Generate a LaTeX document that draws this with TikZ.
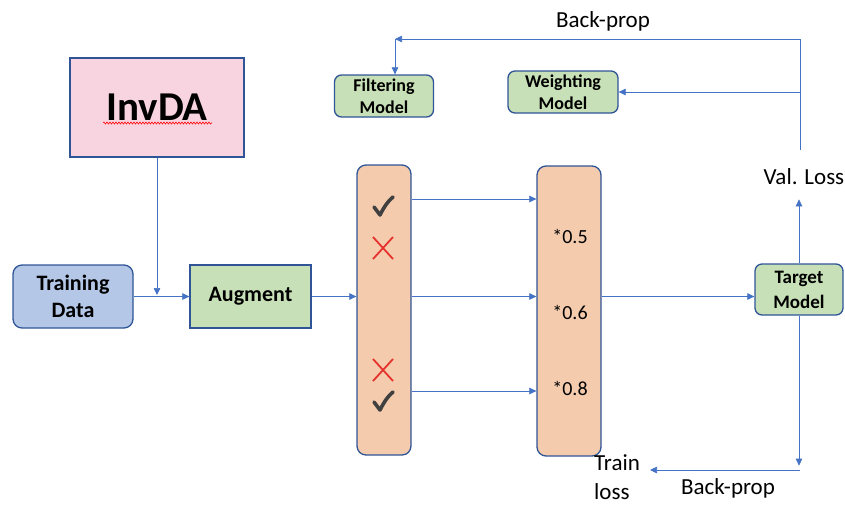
\documentclass[tikz,border=0pt]{standalone}
\usepackage{fontspec}
\setmainfont{Carlito}
\usetikzlibrary{arrows.meta,decorations.pathmorphing}
\definecolor{rim}{HTML}{2F5597}
\definecolor{link}{HTML}{4472C4}
\definecolor{pinkfill}{HTML}{F8D4E0}
\definecolor{bluefill}{HTML}{B4C7E7}
\definecolor{greenfill}{HTML}{C8E0B7}
\definecolor{peachfill}{HTML}{F4CCAD}
\definecolor{tickgray}{HTML}{404040}
\definecolor{crossred}{HTML}{E5322D}
\tikzset{
  box/.style={draw=rim,line width=1.3pt,inner sep=0pt,align=center,font=\bfseries},
  roundbox/.style={box,rounded corners=9pt},
  flow/.style={draw=link,line width=0.7pt,-{Triangle[length=7pt,width=6.5pt]}},
  wire/.style={draw=link,line width=0.7pt},
  plain/.style={inner sep=0pt,font=\fontsize{23}{28}\selectfont},
  okmark/.pic={\draw[tickgray,line width=3.6pt,line cap=round,line join=round]
      (-9,0) -- (-3,8) .. controls (1,0) and (5,-6) .. (10,-10);},
  nomark/.pic={\draw[crossred,line width=1.8pt]
      (-10,-11) -- (10,11) (-10,11) -- (10,-11);}
}
\begin{document}
\begin{tikzpicture}[x=1pt,y=-1pt]
\useasboundingbox (0,0) rectangle (845,504);

% boxes
\node[box,fill=pinkfill,minimum width=174pt,minimum height=99pt,
      font=\bfseries\fontsize{41}{48}\selectfont] (invda) at (157,107.5) {InvDA};
\draw[red,line width=0.6pt,decorate,decoration={snake,amplitude=1pt,segment length=3pt}]
  (103,123) -- (212,123);
\node[roundbox,fill=bluefill,minimum width=120pt,minimum height=63pt,
      font=\bfseries\fontsize{22}{27}\selectfont] (train) at (73,296.5) {Training\\Data};
\node[box,fill=greenfill,minimum width=121pt,minimum height=63pt,
      font=\bfseries\fontsize{22}{27}\selectfont] (aug) at (250.5,296.5) {Augment};
\node[roundbox,fill=peachfill,minimum width=54pt,minimum height=290pt] (filt) at (384,310) {};
\node[roundbox,fill=peachfill,minimum width=64pt,minimum height=290pt] (wgt) at (569,311) {};
\node[roundbox,fill=greenfill,minimum width=88pt,minimum height=51pt,rounded corners=7pt,
      font=\bfseries\fontsize{19}{25}\selectfont] (tgt) at (799,289.5) {Target\\Model};
\node[roundbox,fill=greenfill,minimum width=99pt,minimum height=42pt,rounded corners=7pt,
      font=\bfseries\fontsize{18}{22}\selectfont] (fmod) at (384,96) {Filtering\\Model};
\node[roundbox,fill=greenfill,minimum width=110pt,minimum height=42pt,rounded corners=7pt,
      font=\bfseries\fontsize{18}{22}\selectfont] (wmod) at (563,92) {Weighting\\Model};

% marks in the filtering column
\pic at (383,207) {okmark};
\pic at (383,248) {nomark};
\pic at (383,370) {nomark};
\pic at (383,402) {okmark};

% weights
\node[plain,font=\fontsize{20}{24}\selectfont] (w1) at (570,236) {*0.5};
\node[plain,font=\fontsize{20}{24}\selectfont] (w2) at (570,312) {*0.6};
\node[plain,font=\fontsize{20}{24}\selectfont] (w3) at (570,388) {*0.8};

% free labels
\node[plain] (bptop) at (603,21) {Back-prop};
\node[plain] (val) at (804,177) {Val. Loss};
\node[plain,align=left,anchor=west,font=\fontsize{23}{29}\selectfont] (tl) at (594,477) {Train\\loss};
\node[plain] (bpbot) at (728,488) {Back-prop};

% forward path
\coordinate (join) at (157,295);
\draw[flow] (invda.south) -- (join);
\draw[flow] (train.east) -- (aug.west);
\draw[flow] (aug.east) -- (aug.east -| filt.west);
\coordinate (f1) at ([yshift=111pt]filt.east);
\coordinate (f3) at ([yshift=-81pt]filt.east);
\draw[flow] (f1) -- (f1 -| wgt.west);
\draw[flow] (aug.east -| filt.east) -- (aug.east -| wgt.west);
\draw[flow] (f3) -- (f3 -| wgt.west);
\draw[flow] (aug.east -| wgt.east) -- (aug.east -| tgt.west);

% validation loss and back-propagation to the meta models
\draw[flow] (tgt.north) -- ++(0,-64);
\coordinate (vtop) at (800,150);
\coordinate (corner) at (800,39);
\coordinate (fcorner) at (395,39);
\draw[wire] (vtop) -- (corner);
\draw[flow] (corner) -- (fcorner);
\draw[flow] (fcorner) -- (fcorner |- fmod.north);
\draw[flow] (corner |- wmod.east) -- (wmod.east);

% training loss
\draw[flow] (tgt.south) -- ++(0,150);
\coordinate (brc) at (800,470);
\coordinate (tlend) at (650,470);
\draw[flow] (brc) -- (tlend);
\end{tikzpicture}
\end{document}
